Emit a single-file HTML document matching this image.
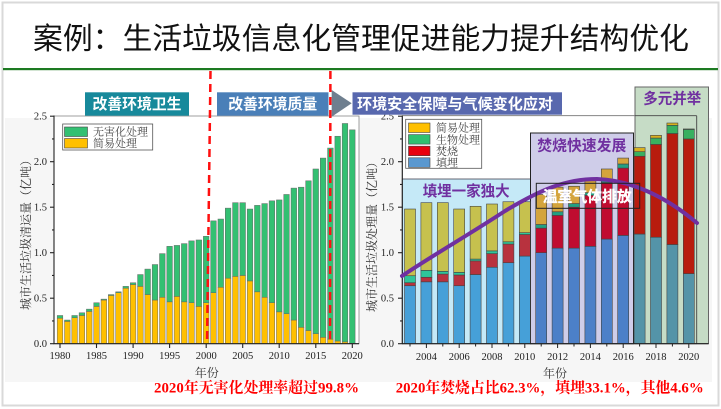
<!DOCTYPE html>
<html><head><meta charset="utf-8"><style>
html,body{margin:0;padding:0;background:#fff;}
svg{display:block;}
.t{font-family:"Liberation Serif","Noto Serif CJK SC",serif;fill:#222;font-size:10.5px;}
.cn{font-family:"Liberation Sans","Noto Sans CJK SC",sans-serif;}
.sf{font-family:"Liberation Serif","Noto Serif CJK SC",serif;}
</style></head><body>
<svg width="721" height="409" viewBox="0 0 721 409" xmlns="http://www.w3.org/2000/svg">
<rect x="2.5" y="2.5" width="716" height="403" fill="#fff" stroke="#d9d9d9" stroke-width="2"/>
<rect x="5" y="118" width="357" height="264" fill="#f6f6f6"/>
<rect x="362" y="118" width="350" height="264" fill="#f6f6f6"/>
<text x="33" y="49" class="cn" font-size="30" fill="#111" textLength="656" lengthAdjust="spacingAndGlyphs">案例：生活垃圾信息化管理促进能力提升结构优化</text>
<rect x="3" y="68" width="715" height="2.2" fill="#1d7a22"/>

<!-- LEFT CHART -->
<rect x="54" y="116" width="305" height="227.7" fill="#fff" stroke="#888" stroke-width="0.8"/>
<g stroke="#666" stroke-width="0.5">
<g fill="#ffc000">
<rect x="57.2" y="318.22" width="5.6" height="25.48"/>
<rect x="64.51" y="321.4" width="5.6" height="22.3"/>
<rect x="71.82" y="317.76" width="5.6" height="25.94"/>
<rect x="79.12" y="315.49" width="5.6" height="28.21"/>
<rect x="86.43" y="311.39" width="5.6" height="32.31"/>
<rect x="93.74" y="306.39" width="5.6" height="37.31"/>
<rect x="101.05" y="300.02" width="5.6" height="43.68"/>
<rect x="108.35" y="295.47" width="5.6" height="48.23"/>
<rect x="115.66" y="292.74" width="5.6" height="50.96"/>
<rect x="122.97" y="288.19" width="5.6" height="55.51"/>
<rect x="130.28" y="284.55" width="5.6" height="59.15"/>
<rect x="137.58" y="286.37" width="5.6" height="57.33"/>
<rect x="144.89" y="294.56" width="5.6" height="49.14"/>
<rect x="152.2" y="300.02" width="5.6" height="43.68"/>
<rect x="159.51" y="297.29" width="5.6" height="46.41"/>
<rect x="166.81" y="301.84" width="5.6" height="41.86"/>
<rect x="174.12" y="296.38" width="5.6" height="47.32"/>
<rect x="181.43" y="301.84" width="5.6" height="41.86"/>
<rect x="188.74" y="302.75" width="5.6" height="40.95"/>
<rect x="196.04" y="306.39" width="5.6" height="37.31"/>
<rect x="203.35" y="302.75" width="5.6" height="40.95"/>
<rect x="210.66" y="292.74" width="5.6" height="50.96"/>
<rect x="217.97" y="287.28" width="5.6" height="56.42"/>
<rect x="225.27" y="278.18" width="5.6" height="65.52"/>
<rect x="232.58" y="276.36" width="5.6" height="67.34"/>
<rect x="239.89" y="275.45" width="5.6" height="68.25"/>
<rect x="247.2" y="280.91" width="5.6" height="62.79"/>
<rect x="254.5" y="291.83" width="5.6" height="51.87"/>
<rect x="261.81" y="297.29" width="5.6" height="46.41"/>
<rect x="269.12" y="302.75" width="5.6" height="40.95"/>
<rect x="276.43" y="311.85" width="5.6" height="31.85"/>
<rect x="283.73" y="313.67" width="5.6" height="30.03"/>
<rect x="291.04" y="320.04" width="5.6" height="23.66"/>
<rect x="298.35" y="327.32" width="5.6" height="16.38"/>
<rect x="305.66" y="330.5" width="5.6" height="13.2"/>
<rect x="312.96" y="333.69" width="5.6" height="10.01"/>
<rect x="320.27" y="337.33" width="5.6" height="6.37"/>
<rect x="327.58" y="339.15" width="5.6" height="4.55"/>
<rect x="334.89" y="340.97" width="5.6" height="2.73"/>
<rect x="342.19" y="341.88" width="5.6" height="1.82"/>
<rect x="349.5" y="343.24" width="5.6" height="0.46"/>
</g>
<g fill="#33c072">
<rect x="57.2" y="315.49" width="5.6" height="2.73"/>
<rect x="64.51" y="320.04" width="5.6" height="1.36"/>
<rect x="71.82" y="315.49" width="5.6" height="2.27"/>
<rect x="79.12" y="312.76" width="5.6" height="2.73"/>
<rect x="86.43" y="309.12" width="5.6" height="2.27"/>
<rect x="93.74" y="302.75" width="5.6" height="3.64"/>
<rect x="101.05" y="299.11" width="5.6" height="0.91"/>
<rect x="108.35" y="294.56" width="5.6" height="0.91"/>
<rect x="115.66" y="291.83" width="5.6" height="0.91"/>
<rect x="122.97" y="286.37" width="5.6" height="1.82"/>
<rect x="130.28" y="282.73" width="5.6" height="1.82"/>
<rect x="137.58" y="274.54" width="5.6" height="11.83"/>
<rect x="144.89" y="269.08" width="5.6" height="25.48"/>
<rect x="152.2" y="264.53" width="5.6" height="35.49"/>
<rect x="159.51" y="253.61" width="5.6" height="43.68"/>
<rect x="166.81" y="246.33" width="5.6" height="55.51"/>
<rect x="174.12" y="245.42" width="5.6" height="50.96"/>
<rect x="181.43" y="243.6" width="5.6" height="58.24"/>
<rect x="188.74" y="240.87" width="5.6" height="61.88"/>
<rect x="196.04" y="239.96" width="5.6" height="66.43"/>
<rect x="203.35" y="236.32" width="5.6" height="66.43"/>
<rect x="210.66" y="220.85" width="5.6" height="71.89"/>
<rect x="217.97" y="219.03" width="5.6" height="68.25"/>
<rect x="225.27" y="208.11" width="5.6" height="70.07"/>
<rect x="232.58" y="202.65" width="5.6" height="73.71"/>
<rect x="239.89" y="202.65" width="5.6" height="72.8"/>
<rect x="247.2" y="209.02" width="5.6" height="71.89"/>
<rect x="254.5" y="205.38" width="5.6" height="86.45"/>
<rect x="261.81" y="203.56" width="5.6" height="93.73"/>
<rect x="269.12" y="200.83" width="5.6" height="101.92"/>
<rect x="276.43" y="199.92" width="5.6" height="111.93"/>
<rect x="283.73" y="194.46" width="5.6" height="119.21"/>
<rect x="291.04" y="188.09" width="5.6" height="131.95"/>
<rect x="298.35" y="187.18" width="5.6" height="140.14"/>
<rect x="305.66" y="180.81" width="5.6" height="149.69"/>
<rect x="312.96" y="168.98" width="5.6" height="164.71"/>
<rect x="320.27" y="158.06" width="5.6" height="179.27"/>
<rect x="327.58" y="148.05" width="5.6" height="191.1"/>
<rect x="334.89" y="136.22" width="5.6" height="204.75"/>
<rect x="342.19" y="123.48" width="5.6" height="218.4"/>
<rect x="349.5" y="129.85" width="5.6" height="213.39"/>
</g>
</g>
<!-- left axes -->
<g stroke="#222" stroke-width="1.1">
<line x1="54" y1="115.5" x2="54" y2="344"/>
<line x1="53.5" y1="343.7" x2="359" y2="343.7"/>
<line x1="50" y1="343.7" x2="54" y2="343.7"/><line x1="50" y1="298.2" x2="54" y2="298.2"/>
<line x1="50" y1="252.7" x2="54" y2="252.7"/><line x1="50" y1="207.2" x2="54" y2="207.2"/>
<line x1="50" y1="161.7" x2="54" y2="161.7"/><line x1="50" y1="116.2" x2="54" y2="116.2"/>
<line x1="52" y1="320.95" x2="54" y2="320.95"/><line x1="52" y1="275.45" x2="54" y2="275.45"/>
<line x1="52" y1="229.95" x2="54" y2="229.95"/><line x1="52" y1="184.45" x2="54" y2="184.45"/>
<line x1="52" y1="138.95" x2="54" y2="138.95"/>
<line x1="60" y1="344" x2="60" y2="348"/><line x1="96.5" y1="344" x2="96.5" y2="348"/>
<line x1="133.1" y1="344" x2="133.1" y2="348"/><line x1="169.6" y1="344" x2="169.6" y2="348"/>
<line x1="206.2" y1="344" x2="206.2" y2="348"/><line x1="242.7" y1="344" x2="242.7" y2="348"/>
<line x1="279.2" y1="344" x2="279.2" y2="348"/><line x1="315.8" y1="344" x2="315.8" y2="348"/>
<line x1="352.3" y1="344" x2="352.3" y2="348"/>
</g>
<g class="t" text-anchor="end">
<text x="47" y="347.2">0.0</text><text x="47" y="301.7">0.5</text><text x="47" y="256.2">1.0</text>
<text x="47" y="210.7">1.5</text><text x="47" y="165.2">2.0</text><text x="47" y="119.7">2.5</text>
</g>
<g class="t" text-anchor="middle">
<text x="60" y="359">1980</text><text x="96.5" y="359">1985</text><text x="133.1" y="359">1990</text>
<text x="169.6" y="359">1995</text><text x="206.2" y="359">2000</text><text x="242.7" y="359">2005</text>
<text x="279.2" y="359">2010</text><text x="315.8" y="359">2015</text><text x="352.3" y="359">2020</text>
</g>
<text x="206.7" y="377" class="sf" font-size="12" fill="#333" text-anchor="middle">年份</text>
<text transform="translate(30,232) rotate(-90)" class="sf" font-size="12" fill="#333" text-anchor="middle">城市生活垃圾清运量（亿吨）</text>
<!-- left legend -->
<rect x="62.7" y="124" width="90" height="26" fill="#fff" stroke="#555" stroke-width="0.8"/>
<rect x="64.5" y="127" width="23" height="9.5" fill="#33c072" stroke="#444" stroke-width="0.6"/>
<rect x="64.5" y="138.5" width="23" height="9.5" fill="#ffc000" stroke="#444" stroke-width="0.6"/>
<text x="93" y="135.5" class="sf" font-size="11" fill="#444">无害化处理</text>
<text x="93" y="147" class="sf" font-size="11" fill="#444">简易处理</text>

<!-- RIGHT CHART -->
<rect x="402.3" y="115.7" width="294.4" height="228" fill="#fff" stroke="#666" stroke-width="0.8"/>
<rect x="402.3" y="179" width="128.5" height="164.7" fill="#c5e9f7" stroke="#445" stroke-width="0.8"/>
<rect x="530.5" y="133" width="103" height="210.7" fill="#cfcde9" stroke="#222" stroke-width="1"/>
<rect x="635" y="87" width="73.5" height="256.7" fill="#c6dcc6" stroke="#666" stroke-width="1"/>
<line x1="696.7" y1="115.7" x2="696.7" y2="343.7" stroke="#444" stroke-width="0.9"/>
<line x1="635" y1="115.7" x2="696.7" y2="115.7" stroke="#444" stroke-width="0.8"/>

<g stroke="#444" stroke-width="0.6">
<!-- region 1 2003-2010 -->
<g fill="#46a0d8">
<rect x="404.5" y="285.73" width="11" height="57.97"/><rect x="420.9" y="281.82" width="11" height="61.88"/>
<rect x="437.3" y="281.82" width="11" height="61.88"/><rect x="453.7" y="285.73" width="11" height="57.97"/>
<rect x="470.1" y="274.54" width="11" height="69.16"/><rect x="486.5" y="267.26" width="11" height="76.44"/>
<rect x="502.9" y="262.71" width="11" height="80.99"/><rect x="519.3" y="256.07" width="11" height="87.63"/>
</g>
<g fill="#b8323e">
<rect x="404.5" y="282.73" width="11" height="3"/><rect x="420.9" y="277.27" width="11" height="4.55"/>
<rect x="437.3" y="274.08" width="11" height="7.74"/><rect x="453.7" y="274.99" width="11" height="10.74"/>
<rect x="470.1" y="260.89" width="11" height="13.65"/><rect x="486.5" y="253.61" width="11" height="13.65"/>
<rect x="502.9" y="244.05" width="11" height="18.66"/><rect x="519.3" y="234.5" width="11" height="21.57"/>
</g>
<g fill="#2ec69a">
<rect x="404.5" y="275.72" width="11" height="7.01"/><rect x="420.9" y="270.35" width="11" height="6.92"/>
<rect x="437.3" y="271.35" width="11" height="2.73"/><rect x="453.7" y="272.36" width="11" height="2.63"/>
<rect x="470.1" y="259.07" width="11" height="1.82"/><rect x="486.5" y="250.88" width="11" height="2.73"/>
<rect x="502.9" y="241.78" width="11" height="2.27"/><rect x="519.3" y="232.68" width="11" height="1.82"/>
</g>
<g fill="#c6c14e">
<rect x="404.5" y="209.02" width="11" height="66.7"/><rect x="420.9" y="202.65" width="11" height="67.7"/>
<rect x="437.3" y="202.65" width="11" height="68.7"/><rect x="453.7" y="209.02" width="11" height="63.34"/>
<rect x="470.1" y="206.29" width="11" height="52.78"/><rect x="486.5" y="204.01" width="11" height="46.87"/>
<rect x="502.9" y="201.74" width="11" height="40.04"/><rect x="519.3" y="201.74" width="11" height="30.94"/>
</g>
<!-- region 2 2011-2016 -->
<g fill="#4c80c8">
<rect x="535.7" y="252.7" width="11" height="91"/><rect x="552.1" y="248.15" width="11" height="95.55"/>
<rect x="568.5" y="248.15" width="11" height="95.55"/><rect x="584.9" y="246.33" width="11" height="97.37"/>
<rect x="601.3" y="239.05" width="11" height="104.65"/><rect x="617.7" y="235.41" width="11" height="108.29"/>
</g>
<g fill="#c00c30">
<rect x="535.7" y="228.13" width="11" height="24.57"/><rect x="552.1" y="215.39" width="11" height="32.76"/>
<rect x="568.5" y="207.2" width="11" height="40.95"/><rect x="584.9" y="195.37" width="11" height="50.96"/>
<rect x="601.3" y="182.63" width="11" height="56.42"/><rect x="617.7" y="168.07" width="11" height="67.34"/>
</g>
<g fill="#22a082">
<rect x="535.7" y="224.49" width="11" height="3.64"/><rect x="552.1" y="211.75" width="11" height="3.64"/>
<rect x="568.5" y="203.56" width="11" height="3.64"/><rect x="584.9" y="192.64" width="11" height="2.73"/>
<rect x="601.3" y="179.9" width="11" height="2.73"/><rect x="617.7" y="163.97" width="11" height="4.1"/>
</g>
<g fill="#d4a43c">
<rect x="535.7" y="194.46" width="11" height="30.03"/><rect x="552.1" y="187.18" width="11" height="24.57"/>
<rect x="568.5" y="186.27" width="11" height="17.29"/><rect x="584.9" y="180.81" width="11" height="11.83"/>
<rect x="601.3" y="168.98" width="11" height="10.92"/><rect x="617.7" y="158.06" width="11" height="5.91"/>
</g>
<!-- region 3 2017-2020 -->
<g fill="#5494a8">
<rect x="634.1" y="234.04" width="11" height="109.66"/><rect x="650.5" y="237.23" width="11" height="106.47"/>
<rect x="666.9" y="244.51" width="11" height="99.19"/><rect x="683.3" y="273.63" width="11" height="70.07"/>
</g>
<g fill="#b81c0e">
<rect x="634.1" y="156.24" width="11" height="77.8"/><rect x="650.5" y="144.41" width="11" height="92.82"/>
<rect x="666.9" y="133.49" width="11" height="111.02"/><rect x="683.3" y="138.95" width="11" height="134.68"/>
</g>
<g fill="#38b060">
<rect x="634.1" y="151.69" width="11" height="4.55"/><rect x="650.5" y="138.04" width="11" height="6.37"/>
<rect x="666.9" y="125.3" width="11" height="8.19"/><rect x="683.3" y="129.39" width="11" height="9.56"/>
</g>
<g fill="#d8b020">
<rect x="634.1" y="147.59" width="11" height="4.1"/><rect x="650.5" y="135.31" width="11" height="2.73"/>
<rect x="666.9" y="123.02" width="11" height="2.28"/><rect x="683.3" y="128.94" width="11" height="0.45"/>
</g>
</g>
<!-- right axes -->
<g stroke="#222" stroke-width="1.1">
<line x1="402.3" y1="115.5" x2="402.3" y2="344"/>
<line x1="402" y1="343.7" x2="708.5" y2="343.7"/>
<line x1="398" y1="343.7" x2="402.3" y2="343.7"/><line x1="398" y1="298.2" x2="402.3" y2="298.2"/>
<line x1="398" y1="252.7" x2="402.3" y2="252.7"/><line x1="398" y1="207.2" x2="402.3" y2="207.2"/>
<line x1="398" y1="161.7" x2="402.3" y2="161.7"/><line x1="398" y1="116.2" x2="402.3" y2="116.2"/>
<line x1="400" y1="320.95" x2="402.3" y2="320.95"/><line x1="400" y1="275.45" x2="402.3" y2="275.45"/>
<line x1="400" y1="229.95" x2="402.3" y2="229.95"/><line x1="400" y1="184.45" x2="402.3" y2="184.45"/>
<line x1="400" y1="138.95" x2="402.3" y2="138.95"/>
</g>
<g stroke="#222" stroke-width="1">
<line x1="410" y1="344" x2="410" y2="346.5"/><line x1="426.4" y1="344" x2="426.4" y2="348"/>
<line x1="442.8" y1="344" x2="442.8" y2="346.5"/><line x1="459.2" y1="344" x2="459.2" y2="348"/>
<line x1="475.6" y1="344" x2="475.6" y2="346.5"/><line x1="492" y1="344" x2="492" y2="348"/>
<line x1="508.4" y1="344" x2="508.4" y2="346.5"/><line x1="524.8" y1="344" x2="524.8" y2="348"/>
<line x1="541.2" y1="344" x2="541.2" y2="346.5"/><line x1="557.6" y1="344" x2="557.6" y2="348"/>
<line x1="574" y1="344" x2="574" y2="346.5"/><line x1="590.4" y1="344" x2="590.4" y2="348"/>
<line x1="606.8" y1="344" x2="606.8" y2="346.5"/><line x1="623.2" y1="344" x2="623.2" y2="348"/>
<line x1="639.6" y1="344" x2="639.6" y2="346.5"/><line x1="656" y1="344" x2="656" y2="348"/>
<line x1="672.4" y1="344" x2="672.4" y2="346.5"/><line x1="688.8" y1="344" x2="688.8" y2="348"/>
</g>
<g class="t" text-anchor="end">
<text x="394" y="347.2">0.0</text><text x="394" y="301.7">0.5</text><text x="394" y="256.2">1.0</text>
<text x="394" y="210.7">1.5</text><text x="394" y="165.2">2.0</text><text x="394" y="119.7">2.5</text>
</g>
<g class="t" text-anchor="middle">
<text x="426.4" y="360">2004</text><text x="459.2" y="360">2006</text><text x="492" y="360">2008</text>
<text x="524.8" y="360">2010</text><text x="557.6" y="360">2012</text><text x="590.4" y="360">2014</text>
<text x="623.2" y="360">2016</text><text x="656" y="360">2018</text><text x="688.8" y="360">2020</text>
</g>
<text x="555" y="377.5" class="sf" font-size="12" fill="#333" text-anchor="middle">年份</text>
<text transform="translate(376,234) rotate(-90)" class="sf" font-size="12" fill="#333" text-anchor="middle">城市生活垃圾处理量（亿吨）</text>
<!-- right legend -->
<rect x="405.7" y="119.3" width="76" height="49" fill="#fff" stroke="#555" stroke-width="0.8"/>
<rect x="408.5" y="123" width="21.5" height="9.5" fill="#ffc000" stroke="#444" stroke-width="0.6"/>
<rect x="408.5" y="134.6" width="21.5" height="9.5" fill="#30c070" stroke="#444" stroke-width="0.6"/>
<rect x="408.5" y="146.2" width="21.5" height="9.5" fill="#e8000e" stroke="#444" stroke-width="0.6"/>
<rect x="408.5" y="157.8" width="21.5" height="9.5" fill="#5a98d0" stroke="#444" stroke-width="0.6"/>
<g class="sf" font-size="11" fill="#444">
<text x="436" y="131.7">简易处理</text><text x="436" y="143.3">生物处理</text>
<text x="436" y="155">焚烧</text><text x="436" y="166.6">填埋</text>
</g>
<!-- region labels -->
<g class="cn" font-size="15" font-weight="bold" fill="#7030a0">
<text x="422.7" y="196" textLength="87" lengthAdjust="spacingAndGlyphs">填埋一家独大</text>
<text x="537.3" y="150.5" textLength="89" lengthAdjust="spacingAndGlyphs">焚烧快速发展</text>
<text x="643.3" y="103.5" textLength="58" lengthAdjust="spacingAndGlyphs">多元并举</text>
</g>
<!-- purple curve -->
<path d="M402,276 C430,257 470,234 505,211 C540,190 565,179 597,179 C630,180 665,196 697,223" fill="none" stroke="#7030a0" stroke-width="4" stroke-linecap="round"/>
<rect x="536.3" y="183.3" width="103.4" height="25" fill="none" stroke="#222" stroke-width="1"/>
<text x="542.7" y="201.5" class="cn" font-size="15" font-weight="bold" fill="#fff" stroke="#fff" stroke-width="0.3" textLength="89" lengthAdjust="spacingAndGlyphs">温室气体排放</text>

<!-- red dashed lines -->
<line x1="210.5" y1="71" x2="207" y2="344" stroke="#ff1010" stroke-width="2.5" stroke-dasharray="8 5"/>
<line x1="330.4" y1="71" x2="330" y2="344" stroke="#ff1010" stroke-width="2.5" stroke-dasharray="8 5"/>

<!-- banners -->
<rect x="85" y="92.3" width="104" height="23.4" fill="#17899b"/>
<text x="137" y="109.2" class="cn" font-size="15" font-weight="bold" fill="#fff" text-anchor="middle" textLength="89" lengthAdjust="spacingAndGlyphs">改善环境卫生</text>
<rect x="217" y="92.3" width="111.5" height="23.4" fill="#4a7fb8"/>
<text x="272.7" y="109.2" class="cn" font-size="15" font-weight="bold" fill="#fff" text-anchor="middle" textLength="89" lengthAdjust="spacingAndGlyphs">改善环境质量</text>
<polygon points="331.7,90 351.7,103.3 331.7,116.7" fill="#6f7f8f"/>
<rect x="352.5" y="92.3" width="209.5" height="22.4" fill="#5868ae"/>
<text x="357" y="109" class="cn" font-size="15" font-weight="bold" fill="#fff" textLength="196" lengthAdjust="spacingAndGlyphs">环境安全保障与气候变化应对</text>

<!-- bottom notes -->
<text x="154" y="392.5" class="sf" font-size="15" font-weight="bold" fill="#ff0000" textLength="205" lengthAdjust="spacingAndGlyphs">2020年无害化处理率超过99.8%</text>
<text x="395.7" y="392.5" class="sf" font-size="15" font-weight="bold" fill="#ff0000" textLength="308" lengthAdjust="spacingAndGlyphs">2020年焚烧占比62.3%，填埋33.1%，其他4.6%</text>
</svg>
</body></html>
